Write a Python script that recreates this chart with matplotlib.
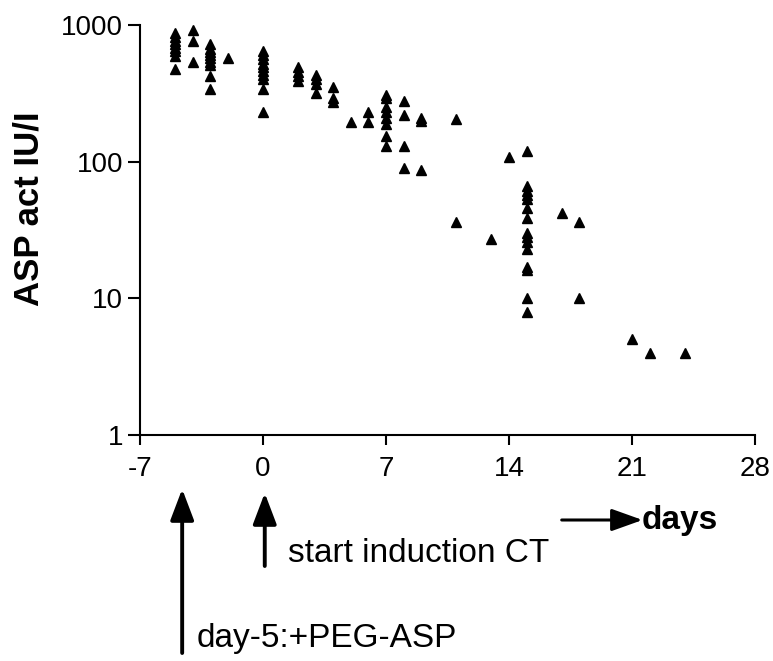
import matplotlib
matplotlib.use("Agg")
import matplotlib.pyplot as plt
import numpy as np

plt.rcParams['font.family'] = ['Liberation Sans', 'DejaVu Sans']

# sampling days and the ASP activities measured on each day (IU/l)
days = [-5, -4, -3, -2, 0, 2, 3, 4, 5, 6, 7, 8, 9, 11, 13, 14, 15, 17, 18, 21, 22, 24]
activity = [
    [880, 820, 770, 720, 680, 640, 590, 480],
    [920, 770, 540],
    [720, 670, 630, 600, 570, 540, 510, 420, 340],
    [570],
    [650, 600, 560, 520, 490, 460, 430, 400, 340, 230],
    [490, 450, 420, 390],
    [430, 400, 370, 320],
    [350, 290, 275],
    [195],
    [230, 195],
    [310, 290, 250, 230, 210, 190, 155, 130],
    [280, 220, 130, 90],
    [210, 200, 87],
    [205, 36],
    [27],
    [108],
    [120, 66, 61, 57, 53, 46, 39, 30, 28, 26, 23, 17, 16, 10, 8],
    [42],
    [36, 10],
    [5],
    [4],
    [4],
]

x_ticks = [-7, 0, 7, 14, 21, 28]
y_ticks = [1, 10, 100, 1000]

x = np.concatenate([[d] * len(v) for d, v in zip(days, activity)])
y = np.concatenate(activity)

W, H = 773, 661
fig = plt.figure(figsize=(W / 100, H / 100), dpi=100)
ax = fig.add_axes([140 / W, 1 - 435 / H, 615 / W, 410 / H])

ax.plot(x, y, linestyle='none', marker='^', markersize=6.5, color='black')

ax.set_yscale('log')
ax.set_xlim(-7, 28)
ax.set_ylim(1, 1000)
ax.set_xticks(x_ticks)
ax.set_xticklabels([str(t) for t in x_ticks])
ax.set_yticks(y_ticks)
ax.set_yticklabels([str(t) for t in y_ticks])
ax.yaxis.set_minor_locator(matplotlib.ticker.NullLocator())

for s in ['top', 'right']:
    ax.spines[s].set_visible(False)
for s in ['left', 'bottom']:
    ax.spines[s].set_linewidth(1.5)
ax.tick_params(axis='both', direction='out', width=1.5, labelsize=20)
ax.tick_params(axis='y', length=9, pad=3)
ax.tick_params(axis='x', length=7, pad=8)

ax.set_ylabel('ASP act IU/I', fontsize=25, fontweight='bold', va='center')
ax.yaxis.set_label_coords(-0.180, 0.551)

# arrows below the axis; x in days, y in figure pixels from the top
def arrow(x0, y0, x1, y1, lw, hw):
    ax.annotate('', xy=(x1, H - y1), xytext=(x0, H - y0),
                xycoords=('data', 'figure pixels'), textcoords=('data', 'figure pixels'),
                arrowprops=dict(arrowstyle='-|>,head_length=0.95,head_width=%s' % hw,
                                mutation_scale=20, lw=lw, color='black',
                                shrinkA=0, shrinkB=0), annotation_clip=False)

arrow(-4.6, 653, -4.6, 489, 2.8, 0.36)
arrow(0.1, 566, 0.1, 493, 2.8, 0.36)
arrow(17.0, 520, 21.6, 520, 2.2, 0.34)

fig.text(288 / W, 1 - 553 / H, 'start induction CT', fontsize=24, va='center', ha='left')
fig.text(197 / W, 1 - 638 / H, 'day-5:+PEG-ASP', fontsize=24, va='center', ha='left')
fig.text(642 / W, 1 - 520 / H, 'days', fontsize=24, fontweight='bold', va='center', ha='left')

fig.savefig('out.png', dpi=100)
